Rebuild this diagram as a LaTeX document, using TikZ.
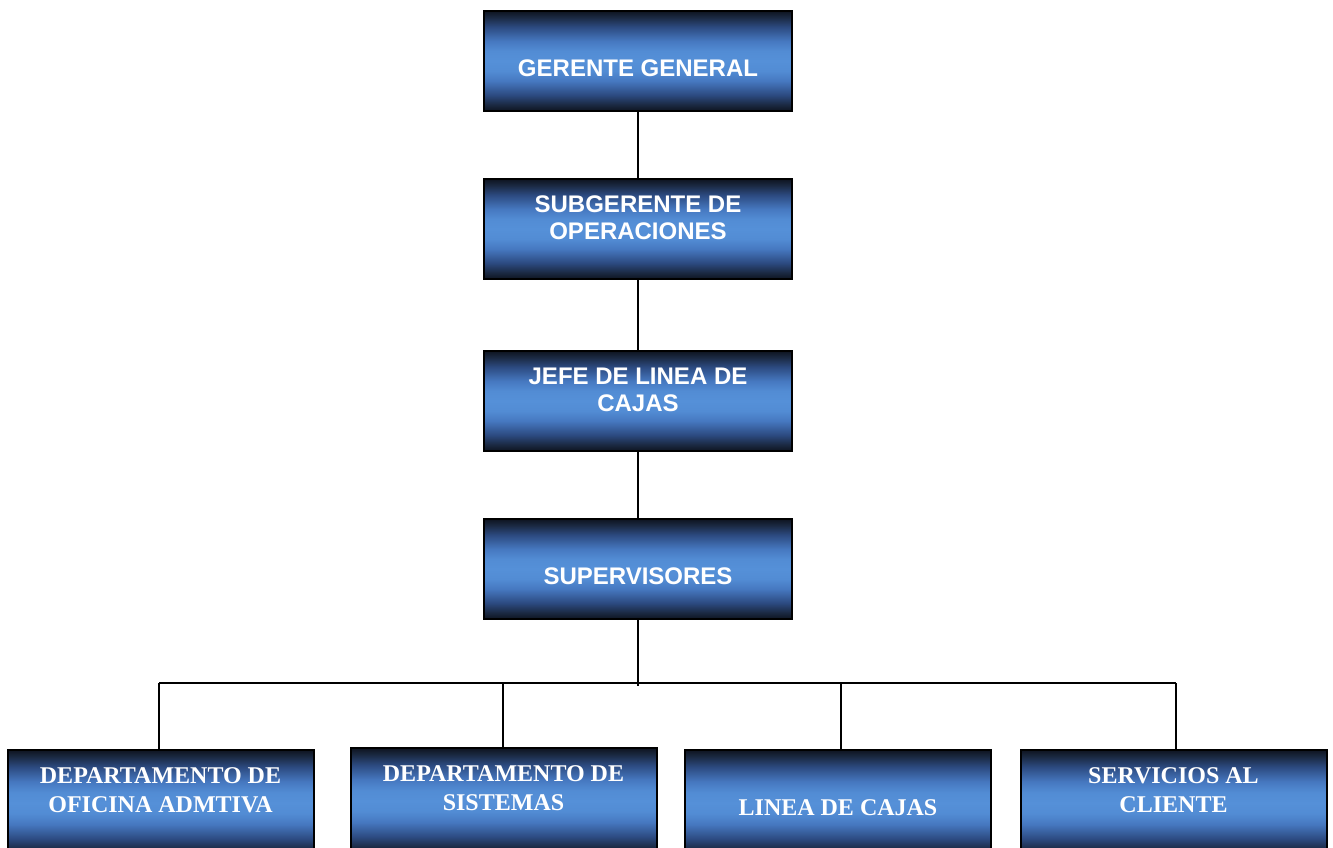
\documentclass[tikz,border=0pt]{standalone}
\usepackage{fontspec}
\setmainfont{Liberation Serif}
\newfontfamily\arialbold{Liberation Sans}[BoldFont={* Bold}]
\definecolor{bdk}{HTML}{0E1420}
\definecolor{bn1}{HTML}{1A2840}
\definecolor{bn2}{HTML}{2C4A80}
\definecolor{bb1}{HTML}{4678C0}
\definecolor{bb2}{HTML}{528CD4}
\definecolor{blt}{HTML}{5590D8}
\pgfdeclareverticalshading{boxshade}{100bp}{color(0bp)=(bdk); color(25bp)=(bdk); color(28bp)=(bn1); color(33bp)=(bn2); color(40bp)=(bb1); color(45bp)=(bb2); color(50bp)=(blt); color(55bp)=(bb2); color(60bp)=(bb1); color(67bp)=(bn2); color(72bp)=(bn1); color(75bp)=(bdk); color(100bp)=(bdk)}
\tikzset{
  orgbox/.style={draw=black, line width=2pt, shading=boxshade, rectangle, inner sep=0pt, minimum width=308pt},
  topbox/.style={orgbox, minimum height=100pt},
  lowbox/.style={orgbox, minimum width=306pt, minimum height=106pt},
  toptxt/.style={text=white, align=center, font=\arialbold\bfseries\fontsize{24}{27}\selectfont, inner sep=0pt},
  lowtxt/.style={text=white, align=center, font=\bfseries\fontsize{24}{29}\selectfont, inner sep=0pt},
  conn/.style={draw=black, line width=2pt}
}
\begin{document}
\begin{tikzpicture}[x=1pt, y=-1pt]
\useasboundingbox (0,0) rectangle (1333,848);
% top chain
\node[topbox] (g) at (638,61) {};
\node[topbox] (s) at (638,229) {};
\node[topbox] (j) at (638,401) {};
\node[topbox] (sup) at (638,569) {};
\node[toptxt] (tg) at (638,68) {GERENTE GENERAL};
\node[toptxt] (ts) at (638,217.5) {SUBGERENTE DE\\OPERACIONES};
\node[toptxt] (tj) at (638,390) {JEFE DE LINEA DE\\CAJAS};
\node[toptxt] (tsup) at (638,576) {SUPERVISORES};
% bottom row
\node[lowbox] (d1) at (160.5,803) {};
\node[lowbox] (d2) at (503.5,801) {};
\node[lowbox] (d3) at (838,803) {};
\node[lowbox] (d4) at (1173.5,803) {};
\node[lowtxt] (t1) at (160.5,790) {DEPARTAMENTO DE\\OFICINA ADMTIVA};
\node[lowtxt] (t2) at (503.5,788) {DEPARTAMENTO DE\\SISTEMAS};
\node[lowtxt] (t3) at (838,808) {LINEA DE CAJAS};
\node[lowtxt] (t4) at (1173.5,790) {SERVICIOS AL\\CLIENTE};
% connectors
\draw[conn] (g) -- (s);
\draw[conn] (s) -- (j);
\draw[conn] (j) -- (sup);
\coordinate (hub) at (638,686);
\coordinate (hl) at (159,683);
\coordinate (h2) at (503,683);
\coordinate (h3) at (841,683);
\coordinate (hr) at (1176,683);
\draw[conn] (sup) -- (hub);
\draw[conn] (hl) -- (hr);
\draw[conn] (hl) -- (hl |- d1.north);
\draw[conn] (h2) -- (h2 |- d2.north);
\draw[conn] (h3) -- (h3 |- d3.north);
\draw[conn] (hr) -- (hr |- d4.north);
\end{tikzpicture}
\end{document}
